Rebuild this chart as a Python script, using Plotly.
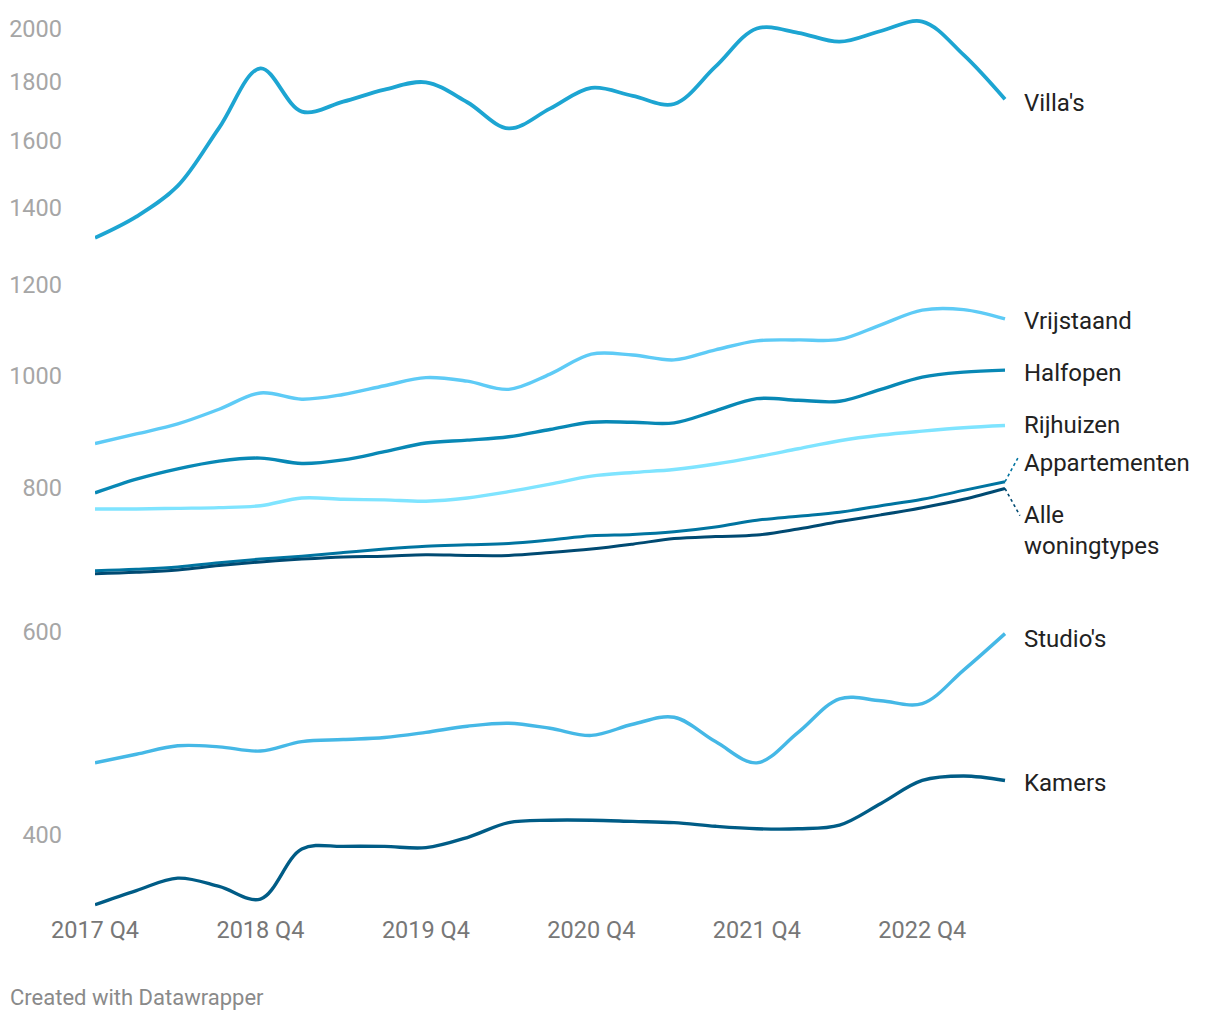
import math
import plotly.graph_objects as go

# ---------------- data ----------------
quarters = ["2017 Q4", "2018 Q1", "2018 Q2", "2018 Q3", "2018 Q4", "2019 Q1", "2019 Q2",
            "2019 Q3", "2019 Q4", "2020 Q1", "2020 Q2", "2020 Q3", "2020 Q4", "2021 Q1",
            "2021 Q2", "2021 Q3", "2021 Q4", "2022 Q1", "2022 Q2", "2022 Q3", "2022 Q4",
            "2023 Q1", "2023 Q2"]

villas = [1318, 1375, 1462, 1642, 1849, 1696, 1730, 1772, 1798, 1728, 1640, 1706,
          1778, 1750, 1722, 1855, 2002, 1985, 1950, 1992, 2030, 1899, 1738]
vrijstaand = [874, 891, 909, 936, 967, 955, 964, 981, 997, 990, 974, 1004,
              1045, 1043, 1033, 1054, 1073, 1075, 1076, 1108, 1141, 1142, 1121]
halfopen = [792, 814, 831, 844, 849, 840, 846, 860, 875, 880, 886, 899,
            912, 912, 911, 933, 956, 953, 951, 974, 998, 1008, 1012]
rijhuizen = [767, 767, 768, 769, 772, 784, 782, 781, 779, 784, 794, 806,
             819, 825, 830, 839, 851, 865, 879, 889, 896, 902, 906]
appartementen = [678, 680, 683, 689, 694, 698, 703, 708, 712, 714, 716, 721,
                 727, 729, 733, 740, 750, 756, 762, 772, 782, 796, 810]
alle = [674, 676, 679, 685, 690, 694, 697, 698, 700, 699, 699, 703,
        708, 715, 723, 726, 728, 737, 748, 758, 769, 782, 799]
studios = [462, 470, 478, 477, 473, 482, 484, 486, 491, 497, 500, 495,
           488, 499, 506, 482, 462, 491, 525, 523, 520, 556, 598]
kamers = [348, 358, 367, 361, 352, 389, 391, 391, 390, 398, 410, 412,
          412, 411, 410, 407, 405, 405, 408, 426, 446, 450, 446]

series_names = ["Villa's", "Vrijstaand", "Halfopen", "Rijhuizen", "Appartementen",
                "Alle<br>woningtypes", "Studio's", "Kamers"]
series_values = [villas, vrijstaand, halfopen, rijhuizen, appartementen, alle, studios, kamers]

y_tick_values = [400, 600, 800, 1000, 1200, 1400, 1600, 1800, 2000]
x_tick_labels = ["2017 Q4", "2018 Q4", "2019 Q4", "2020 Q4", "2021 Q4", "2022 Q4"]

# ---------------- styles ----------------
colors = ["#1da5d2", "#5ecbf6", "#0888b5", "#7fe4ff", "#0074a0", "#004a72", "#45b8e6", "#005c86"]
widths = [3.8, 3.4, 3.4, 3.4, 3.0, 3.0, 3.4, 3.4]
label_yshift = [-4, -2, -3, 1, 19, -42, -5, -3]

W, H = 1212, 1012              # page adds an 8px body margin
ML, MR, MT, MB = 87, 10, 2, 110
px_per_q = 910 / 22
x_max = (W - ML - MR) / px_per_q

x = list(range(len(quarters)))

fig = go.Figure()
for name, vals, col, w in zip(series_names, series_values, colors, widths):
    fig.add_trace(go.Scatter(x=x, y=vals, mode="lines", name=name.replace("<br>", " "),
                             line=dict(color=col, width=w, shape="spline", smoothing=1.0),
                             hoverinfo="skip", showlegend=False))

# dotted connectors for the two crowded labels
last = len(quarters) - 1
conn_targets = {4: (0.31, 849), 5: (0.36, 757)}
for idx, (dx, yv) in conn_targets.items():
    fig.add_trace(go.Scatter(x=[last, last + dx], y=[series_values[idx][-1], yv], mode="lines",
                             line=dict(color=colors[idx], width=1.6, dash="dot"),
                             hoverinfo="skip", showlegend=False))

for name, vals, ys in zip(series_names, series_values, label_yshift):
    fig.add_annotation(x=last, y=math.log10(vals[-1]), xref="x", yref="y", text=name,
                       showarrow=False, xanchor="left", yanchor="middle", align="left",
                       xshift=17, yshift=ys,
                       font=dict(family="Roboto", size=24, color="#222222"))

fig.add_annotation(x=0, y=0, xref="paper", yref="paper", text="Created with Datawrapper",
                   showarrow=False, xanchor="left", yanchor="middle", xshift=-ML, yshift=-87,
                   font=dict(family="Roboto", size=22, color="#8a8a8a"))

ymin = 400 * 10 ** (-(910 - 835) / 1153.1)
ymax = 400 * 10 ** ((835 - 10) / 1153.1)

fig.update_layout(
    width=W, height=H,
    margin=dict(l=ML, r=MR, t=MT, b=MB, pad=0),
    paper_bgcolor="white", plot_bgcolor="white",
    font=dict(family="Roboto"),
    xaxis=dict(range=[0, x_max], tickmode="array",
               tickvals=[quarters.index(t) for t in x_tick_labels], ticktext=x_tick_labels,
               showgrid=False, zeroline=False, showline=False, ticks="",
               ticklabelstandoff=3,
               tickfont=dict(family="Roboto", size=23.5, color="#777777")),
    yaxis=dict(type="log", range=[math.log10(ymin), math.log10(ymax)],
               tickmode="array", tickvals=y_tick_values,
               ticktext=[str(v) for v in y_tick_values],
               showgrid=False, zeroline=False, showline=False, ticks="",
               ticklabelstandoff=32,
               tickfont=dict(family="Roboto", size=23.5, color="#a6a6a6")),
)

fig.write_html("out.html")
